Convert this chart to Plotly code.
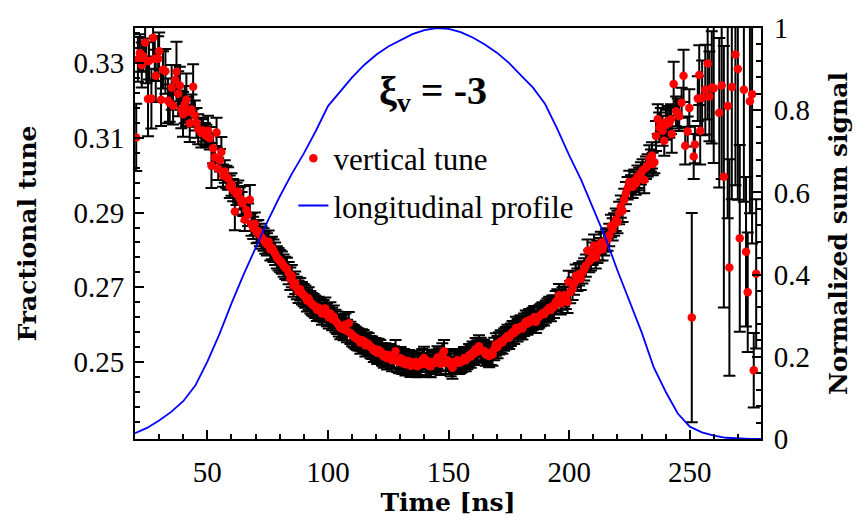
import plotly.graph_objects as go

# ---- vertical tune measurements (time [ns], fractional tune, error) ----
time_ns = [
    20.5, 21.2, 22.0, 22.8, 23.5, 24.2, 24.7, 25.4, 25.8, 26.8, 27.5, 28.2, 28.6, 29.6, 30.0,
    30.8, 31.6, 32.6, 33.7, 34.4, 35.2, 35.8, 36.7, 37.2, 37.9, 38.6, 39.2, 39.9, 40.6, 41.3,
    42.0, 42.7, 43.4, 44.1, 44.8, 45.5, 46.2, 47.5, 48.2, 48.9, 49.6, 50.3, 51.0, 51.7, 52.4,
    53.1, 53.8, 54.5, 55.2, 55.8, 56.5, 57.2, 57.9, 58.6, 59.3, 60.0, 60.7, 61.4, 62.1, 62.8,
    63.5, 64.2, 64.9, 65.5, 66.2, 66.9, 67.6, 68.3, 69.0, 69.7, 70.4, 71.1, 71.8, 72.5, 73.3,
    74.0, 74.7, 75.4, 76.1, 76.8, 77.4, 78.1, 78.8, 79.5, 80.2, 80.9, 81.6, 82.3, 83.0, 83.7,
    84.4, 85.0, 85.7, 86.4, 87.1, 87.8, 88.5, 89.2, 89.9, 90.6, 91.3, 92.0, 92.7, 93.3, 94.0,
    94.7, 95.4, 96.1, 96.8, 97.5, 98.2, 98.9, 99.6, 100.3, 101.0, 101.7, 102.4, 103.1, 103.8, 104.5,
    105.1, 105.8, 106.5, 107.2, 107.9, 108.6, 109.3, 110.0, 110.7, 111.4, 112.0, 112.7, 113.4, 114.1, 114.8,
    115.5, 116.2, 116.9, 117.6, 118.3, 119.0, 119.7, 120.4, 121.0, 121.7, 122.4, 123.1, 123.8, 124.5, 125.2,
    125.9, 126.6, 127.3, 128.0, 128.7, 129.4, 130.1, 130.8, 131.5, 132.1, 132.8, 133.5, 134.2, 134.9, 135.6,
    136.3, 137.0, 137.7, 138.4, 139.1, 139.8, 140.5, 141.2, 141.9, 142.6, 143.3, 144.0, 144.7, 145.4, 146.0,
    146.7, 147.4, 148.1, 148.8, 149.5, 150.2, 150.9, 151.6, 152.3, 152.9, 153.6, 154.3, 155.0, 155.7, 156.4,
    157.1, 157.8, 158.5, 159.2, 159.9, 160.6, 161.2, 161.9, 162.6, 163.3, 164.0, 164.7, 165.4, 166.1, 166.8,
    167.5, 168.2, 168.9, 169.6, 170.3, 171.0, 171.6, 172.3, 173.0, 173.7, 174.4, 175.1, 175.8, 176.5, 177.2,
    177.9, 178.6, 179.3, 179.9, 180.6, 181.3, 182.0, 182.7, 183.4, 184.1, 184.8, 185.5, 186.2, 186.9, 187.5,
    188.2, 188.9, 189.6, 190.3, 191.0, 191.7, 192.4, 193.0, 193.7, 194.4, 195.1, 195.8, 196.5, 197.2, 197.9,
    198.6, 199.3, 199.8, 200.4, 201.4, 202.0, 202.7, 203.4, 204.1, 204.8, 205.5, 206.2, 206.9, 207.6, 208.3,
    209.0, 209.7, 210.3, 211.0, 211.7, 212.4, 213.1, 213.8, 214.5, 215.2, 215.9, 216.6, 217.3, 218.0, 218.6,
    219.3, 220.0, 220.7, 221.4, 222.1, 222.8, 223.5, 224.2, 224.9, 225.6, 226.3, 227.0, 227.6, 228.3, 229.0,
    229.7, 230.4, 231.1, 231.8, 232.5, 233.2, 233.9, 234.3, 234.6, 235.3, 236.0, 236.7, 237.3, 238.0, 238.7,
    239.4, 240.1, 240.8, 241.5, 242.2, 242.5, 243.3, 244.3, 245.0, 245.6, 246.6, 247.4, 248.1, 249.1, 249.8,
    250.8, 251.6, 252.1, 253.3, 253.9, 254.3, 255.1, 256.4, 257.4, 258.1, 259.1, 259.9, 262.2, 263.2, 264.1,
    265.7, 266.4, 267.4, 268.9, 269.9, 270.7, 272.4, 273.3, 274.0, 274.9, 275.8, 276.5, 277.5,
]
tune = [
    0.3101, 0.3310, 0.3327, 0.3295, 0.3318, 0.3355, 0.3306, 0.3204, 0.3306, 0.3205, 0.3368, 0.3312, 0.3266, 0.3312, 0.3332,
    0.3202, 0.3282, 0.3278, 0.3199, 0.3193, 0.3235, 0.3186, 0.3255, 0.3277, 0.3218, 0.3240, 0.3176, 0.3163, 0.3189, 0.3202,
    0.3170, 0.3139, 0.3176, 0.3237, 0.3160, 0.3140, 0.3123, 0.3114, 0.3120, 0.3110, 0.3105, 0.3119, 0.3099, 0.3026, 0.3072,
    0.3048, 0.3114, 0.3017, 0.3040, 0.3062, 0.2999, 0.3010, 0.2995, 0.2991, 0.2969, 0.2975, 0.2960, 0.2903, 0.2950, 0.2956,
    0.2938, 0.2925, 0.2931, 0.2881, 0.2907, 0.2894, 0.2934, 0.2868, 0.2859, 0.2870, 0.2848, 0.2850, 0.2840, 0.2833, 0.2828,
    0.2820, 0.2815, 0.2822, 0.2802, 0.2805, 0.2798, 0.2790, 0.2780, 0.2775, 0.2770, 0.2766, 0.2758, 0.2752, 0.2749, 0.2738,
    0.2723, 0.2730, 0.2705, 0.2712, 0.2698, 0.2688, 0.2695, 0.2684, 0.2679, 0.2675, 0.2665, 0.2670, 0.2660, 0.2655, 0.2652,
    0.2648, 0.2640, 0.2645, 0.2639, 0.2630, 0.2636, 0.2643, 0.2626, 0.2620, 0.2630, 0.2615, 0.2621, 0.2610, 0.2605, 0.2598,
    0.2591, 0.2595, 0.2588, 0.2600, 0.2583, 0.2604, 0.2578, 0.2572, 0.2569, 0.2565, 0.2562, 0.2560, 0.2552, 0.2558, 0.2556,
    0.2545, 0.2550, 0.2547, 0.2540, 0.2538, 0.2530, 0.2534, 0.2525, 0.2532, 0.2529, 0.2520, 0.2515, 0.2520, 0.2510, 0.2518,
    0.2516, 0.2505, 0.2512, 0.2529, 0.2503, 0.2500, 0.2510, 0.2498, 0.2505, 0.2494, 0.2498, 0.2502, 0.2490, 0.2498, 0.2495,
    0.2500, 0.2489, 0.2492, 0.2494, 0.2505, 0.2511, 0.2495, 0.2503, 0.2490, 0.2489, 0.2500, 0.2497, 0.2503, 0.2512, 0.2507,
    0.2495, 0.2520, 0.2529, 0.2498, 0.2505, 0.2498, 0.2492, 0.2485, 0.2500, 0.2498, 0.2505, 0.2498, 0.2500, 0.2503, 0.2510,
    0.2505, 0.2511, 0.2518, 0.2515, 0.2525, 0.2522, 0.2534, 0.2528, 0.2542, 0.2535, 0.2530, 0.2529, 0.2520, 0.2525, 0.2516,
    0.2522, 0.2520, 0.2535, 0.2547, 0.2540, 0.2550, 0.2555, 0.2552, 0.2560, 0.2564, 0.2570, 0.2565, 0.2573, 0.2580, 0.2578,
    0.2591, 0.2585, 0.2592, 0.2595, 0.2590, 0.2600, 0.2608, 0.2603, 0.2612, 0.2608, 0.2615, 0.2620, 0.2608, 0.2618, 0.2622,
    0.2626, 0.2630, 0.2628, 0.2635, 0.2640, 0.2645, 0.2639, 0.2648, 0.2648, 0.2660, 0.2665, 0.2679, 0.2657, 0.2670, 0.2679,
    0.2672, 0.2661, 0.2714, 0.2687, 0.2696, 0.2710, 0.2731, 0.2720, 0.2735, 0.2723, 0.2740, 0.2748, 0.2758, 0.2798, 0.2770,
    0.2775, 0.2790, 0.2811, 0.2780, 0.2795, 0.2802, 0.2819, 0.2802, 0.2815, 0.2825, 0.2828, 0.2840, 0.2864, 0.2855, 0.2868,
    0.2881, 0.2875, 0.2899, 0.2916, 0.2905, 0.2934, 0.2952, 0.2965, 0.2982, 0.2970, 0.2969, 0.2985, 0.2978, 0.2996, 0.2990,
    0.3005, 0.3013, 0.2987, 0.3020, 0.3026, 0.3045, 0.3039, 0.3053, 0.3030, 0.3035, 0.3105, 0.3150, 0.3128, 0.3140, 0.3119,
    0.3092, 0.3135, 0.3145, 0.3140, 0.3150, 0.3110, 0.3244, 0.3171, 0.3165, 0.3158, 0.3194, 0.3266, 0.3079, 0.3117, 0.3180,
    0.2619, 0.3050, 0.3082, 0.3205, 0.3268, 0.3119, 0.3207, 0.3229, 0.3299, 0.3211, 0.3235, 0.3233, 0.3167, 0.3240, 0.2996,
    0.3185, 0.2753, 0.3236, 0.3323, 0.3284, 0.2831, 0.3229, 0.2795, 0.2687, 0.3198, 0.3217, 0.2478, 0.2736,
]
tune_err = [
    0.0090, 0.0060, 0.0050, 0.0060, 0.0040, 0.0050, 0.0060, 0.0100, 0.0050, 0.0080, 0.0050, 0.0060, 0.0070, 0.0060, 0.0050,
    0.0070, 0.0050, 0.0060, 0.0060, 0.0050, 0.0060, 0.0050, 0.0040, 0.0080, 0.0060, 0.0050, 0.0050, 0.0060, 0.0050, 0.0070,
    0.0040, 0.0050, 0.0040, 0.0060, 0.0040, 0.0040, 0.0040, 0.0040, 0.0030, 0.0030, 0.0030, 0.0040, 0.0030, 0.0060, 0.0040,
    0.0030, 0.0040, 0.0030, 0.0030, 0.0040, 0.0030, 0.0030, 0.0030, 0.0030, 0.0030, 0.0030, 0.0030, 0.0050, 0.0030, 0.0030,
    0.0030, 0.0030, 0.0040, 0.0030, 0.0030, 0.0030, 0.0040, 0.0030, 0.0030, 0.0030, 0.0030, 0.0030, 0.0030, 0.0030, 0.0030,
    0.0030, 0.0030, 0.0030, 0.0030, 0.0030, 0.0030, 0.0030, 0.0030, 0.0030, 0.0030, 0.0030, 0.0030, 0.0030, 0.0030, 0.0030,
    0.0030, 0.0030, 0.0030, 0.0030, 0.0030, 0.0030, 0.0030, 0.0030, 0.0030, 0.0030, 0.0030, 0.0030, 0.0030, 0.0030, 0.0030,
    0.0030, 0.0030, 0.0030, 0.0030, 0.0030, 0.0030, 0.0030, 0.0030, 0.0030, 0.0030, 0.0030, 0.0030, 0.0030, 0.0030, 0.0030,
    0.0030, 0.0030, 0.0030, 0.0030, 0.0030, 0.0030, 0.0030, 0.0030, 0.0030, 0.0030, 0.0030, 0.0030, 0.0030, 0.0030, 0.0030,
    0.0030, 0.0030, 0.0030, 0.0030, 0.0030, 0.0030, 0.0030, 0.0030, 0.0030, 0.0030, 0.0030, 0.0030, 0.0030, 0.0030, 0.0030,
    0.0030, 0.0030, 0.0030, 0.0030, 0.0030, 0.0030, 0.0030, 0.0030, 0.0030, 0.0030, 0.0030, 0.0030, 0.0030, 0.0030, 0.0030,
    0.0030, 0.0030, 0.0030, 0.0030, 0.0030, 0.0030, 0.0030, 0.0030, 0.0030, 0.0030, 0.0030, 0.0030, 0.0030, 0.0030, 0.0030,
    0.0030, 0.0030, 0.0030, 0.0030, 0.0030, 0.0030, 0.0030, 0.0030, 0.0030, 0.0030, 0.0030, 0.0030, 0.0030, 0.0030, 0.0030,
    0.0030, 0.0030, 0.0030, 0.0030, 0.0030, 0.0030, 0.0030, 0.0030, 0.0030, 0.0030, 0.0030, 0.0030, 0.0030, 0.0030, 0.0030,
    0.0030, 0.0030, 0.0030, 0.0030, 0.0030, 0.0030, 0.0030, 0.0030, 0.0030, 0.0030, 0.0030, 0.0030, 0.0030, 0.0030, 0.0030,
    0.0030, 0.0030, 0.0030, 0.0030, 0.0030, 0.0030, 0.0030, 0.0030, 0.0030, 0.0030, 0.0030, 0.0030, 0.0030, 0.0030, 0.0030,
    0.0030, 0.0030, 0.0030, 0.0030, 0.0030, 0.0030, 0.0030, 0.0030, 0.0030, 0.0030, 0.0030, 0.0030, 0.0030, 0.0030, 0.0030,
    0.0030, 0.0030, 0.0030, 0.0030, 0.0030, 0.0030, 0.0030, 0.0030, 0.0030, 0.0030, 0.0030, 0.0030, 0.0030, 0.0030, 0.0030,
    0.0030, 0.0030, 0.0030, 0.0030, 0.0030, 0.0030, 0.0030, 0.0030, 0.0030, 0.0030, 0.0030, 0.0030, 0.0030, 0.0030, 0.0030,
    0.0030, 0.0030, 0.0030, 0.0030, 0.0030, 0.0030, 0.0030, 0.0030, 0.0030, 0.0030, 0.0030, 0.0030, 0.0030, 0.0030, 0.0030,
    0.0030, 0.0030, 0.0035, 0.0030, 0.0030, 0.0035, 0.0030, 0.0035, 0.0030, 0.0030, 0.0040, 0.0040, 0.0040, 0.0040, 0.0040,
    0.0040, 0.0040, 0.0040, 0.0040, 0.0040, 0.0050, 0.0060, 0.0040, 0.0040, 0.0040, 0.0040, 0.0070, 0.0050, 0.0040, 0.0050,
    0.0280, 0.0060, 0.0050, 0.0060, 0.0080, 0.0090, 0.0100, 0.0120, 0.0150, 0.0120, 0.0150, 0.0200, 0.0200, 0.0250, 0.0350,
    0.0300, 0.0290, 0.0300, 0.0350, 0.0350, 0.0250, 0.0300, 0.0200, 0.0160, 0.0300, 0.0400, 0.0100, 0.0200,
]

# ---- longitudinal profile (time [ns], normalized sum signal) ----
prof_t = [20, 25, 30, 35, 40, 45, 50, 55, 60, 65, 70, 75, 80, 85, 90, 95, 100, 105, 110, 115,
          120, 125, 130, 135, 140, 145, 150, 155, 160, 165, 170, 175, 180, 185, 190, 195, 200,
          205, 210, 215, 220, 225, 230, 235, 240, 245, 250, 255, 260, 265, 270, 275, 280]
prof_v = [0.014, 0.027, 0.045, 0.066, 0.092, 0.130, 0.188, 0.255, 0.330, 0.400, 0.465, 0.530,
          0.590, 0.645, 0.695, 0.750, 0.810, 0.845, 0.880, 0.910, 0.935, 0.955, 0.970, 0.985,
          0.995, 1.000, 0.998, 0.990, 0.977, 0.960, 0.940, 0.915, 0.885, 0.855, 0.815, 0.755,
          0.690, 0.630, 0.560, 0.490, 0.410, 0.335, 0.260, 0.175, 0.115, 0.062, 0.030, 0.016,
          0.008, 0.003, 0.001, 0.0, 0.0]

x_major = [50, 100, 150, 200, 250]
x_minor = [30, 40, 60, 70, 80, 90, 110, 120, 130, 140, 160, 170, 180, 190, 210, 220, 230, 240, 260, 270]
y_major = [0.25, 0.27, 0.29, 0.31, 0.33]
y_major_text = ["0.25", "0.27", "0.29", "0.31", "0.33"]
y_minor = [0.234, 0.238, 0.242, 0.246, 0.254, 0.258, 0.262, 0.266, 0.274, 0.278, 0.282, 0.286,
           0.294, 0.298, 0.302, 0.306, 0.314, 0.318, 0.322, 0.326, 0.334, 0.338]
y2_major = [0, 0.2, 0.4, 0.6, 0.8, 1.0]
y2_major_text = ["0", "0.2", "0.4", "0.6", "0.8", "1"]
y2_minor = [0.04, 0.08, 0.12, 0.16, 0.24, 0.28, 0.32, 0.36, 0.44, 0.48, 0.52, 0.56,
            0.64, 0.68, 0.72, 0.76, 0.84, 0.88, 0.92, 0.96]

SERIF = "Liberation Serif"
BOLD_T = "DejaVu Serif"

fig = go.Figure()
fig.add_trace(go.Scatter(
    x=time_ns, y=tune, mode="markers", name="vertical tune", legendgroup="a",
    marker=dict(color="#ff0000", size=8.5),
    error_y=dict(type="data", array=tune_err, color="black", thickness=2, width=6),
))
fig.add_trace(go.Scatter(
    x=prof_t, y=prof_v, mode="lines", name="longitudinal profile", legendgroup="b",
    line=dict(color="#0000ff", width=1.8), yaxis="y2",
))

tickfont = dict(family=SERIF, size=29, color="black")
axis_common = dict(showline=True, linecolor="black", linewidth=2, showgrid=False,
                   zeroline=False, ticks="inside", ticklen=9, tickwidth=1.5,
                   tickcolor="black", tickfont=tickfont)

fig.update_layout(
    width=862, height=525,
    margin=dict(l=135, r=101, t=22, b=86),
    paper_bgcolor="white", plot_bgcolor="white",
    xaxis=dict(range=[20, 279.5], tickmode="array", tickvals=x_major, mirror=True,
               ticklabelstandoff=6,
               minor=dict(tickmode="array", tickvals=x_minor, ticks="inside", ticklen=5,
                          tickwidth=1.5, tickcolor="black", showgrid=False),
               title=dict(text="<b>Time [ns]</b>", font=dict(family=BOLD_T, size=25, color="black"),
                          standoff=2),
               **axis_common),
    yaxis=dict(range=[0.2294, 0.3394], tickmode="array", tickvals=y_major, ticktext=y_major_text,
               ticklabelstandoff=3,
               minor=dict(tickmode="array", tickvals=y_minor, ticks="inside", ticklen=5,
                          tickwidth=1.5, tickcolor="black", showgrid=False),
               title=dict(text="<b>Fractional tune</b>", font=dict(family=BOLD_T, size=25, color="black"),
                          standoff=30),
               **axis_common),
    yaxis2=dict(range=[0, 1], overlaying="y", side="right", tickmode="array",
                tickvals=y2_major, ticktext=y2_major_text, ticklabelstandoff=5,
                minor=dict(tickmode="array", tickvals=y2_minor, ticks="inside", ticklen=5,
                           tickwidth=1.5, tickcolor="black", showgrid=False),
                title=dict(text="<b>Normalized sum signal</b>", font=dict(family=BOLD_T, size=25, color="black"),
                           standoff=20),
                **axis_common),
    legend=dict(x=0.253, y=0.748, xanchor="left", yanchor="top", tracegroupgap=4,
                bgcolor="rgba(0,0,0,0)", font=dict(family=SERIF, size=31, color="black"),
                itemsizing="trace"),
    showlegend=True,
    annotations=[dict(text="<b>ξ<sub>v</sub> = -3</b>", x=0.476, y=0.843, xref="paper", yref="paper",
                      xanchor="center", yanchor="middle", showarrow=False,
                      font=dict(family=SERIF, size=40, color="black"))],
)

fig.write_html("out.html")
